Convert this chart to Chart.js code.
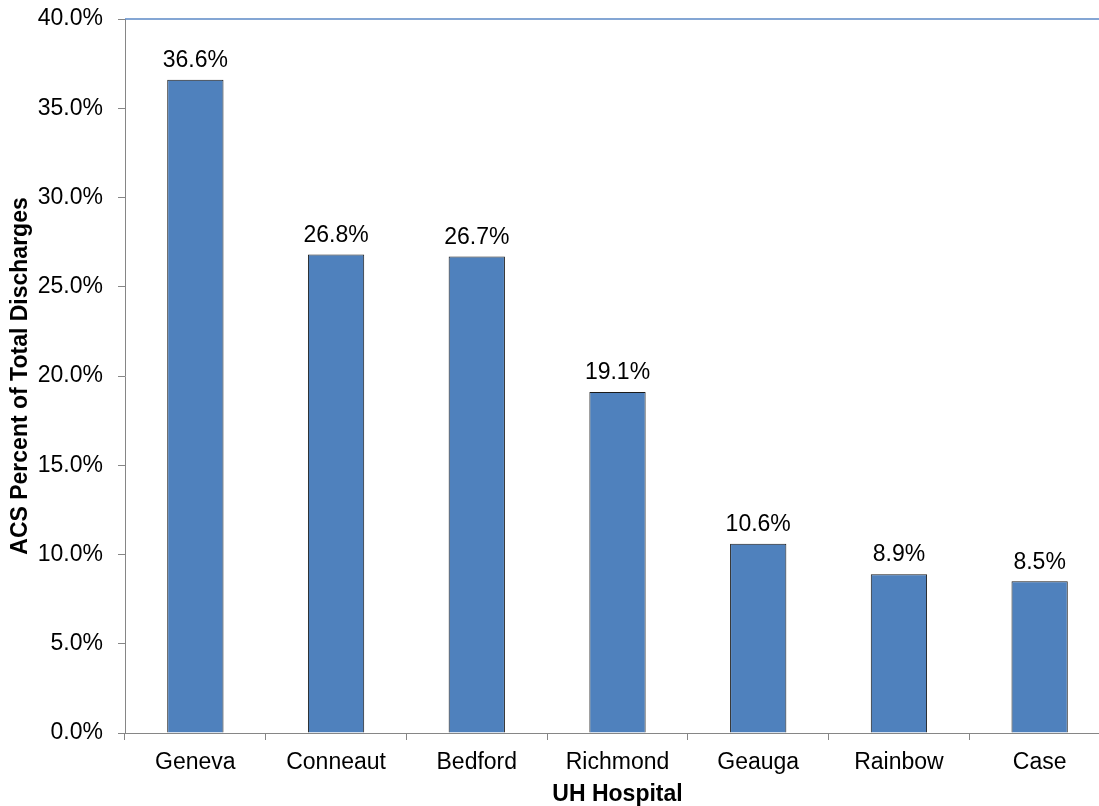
<!DOCTYPE html>
<html>
<head>
<meta charset="utf-8">
<script src="https://cdn.jsdelivr.net/npm/chart.js@4/dist/chart.umd.min.js"></script>
<style>
  html, body { margin: 0; padding: 0; background: #fff; overflow: hidden; }
  #wrap { position: absolute; left: 0; top: 0; width: 1110px; height: 806px; }
</style>
</head>
<body>
<div id="wrap"><canvas id="c"></canvas></div>
<script>
const categories = ['Geneva', 'Conneaut', 'Bedford', 'Richmond', 'Geauga', 'Rainbow', 'Case'];
const acsPercent = [36.6, 26.8, 26.7, 19.1, 10.6, 8.9, 8.5];
const yTickMin = 0;
const yTickMax = 40;
const yTickStep = 5;
const yTitle = 'ACS Percent of Total Discharges';
const xTitle = 'UH Hospital';

const FONT = "'Liberation Sans', Arial, sans-serif";
const FS = 23;
const AXIS_GRAY = '#868686';

const valueLabels = {
  id: 'valueLabels',
  afterDatasetsDraw(chart) {
    const ctx = chart.ctx;
    const meta = chart.getDatasetMeta(0);
    ctx.save();
    ctx.font = FS + 'px ' + FONT;
    ctx.fillStyle = '#000';
    ctx.textAlign = 'center';
    ctx.textBaseline = 'middle';
    meta.data.forEach((bar, i) => {
      ctx.fillText(acsPercent[i].toFixed(1) + '%', bar.x, bar.y - 19);
    });
    ctx.restore();
  }
};

const topBorder = {
  id: 'topBorder',
  afterDraw(chart) {
    const {ctx, chartArea} = chart;
    ctx.save();
    ctx.strokeStyle = '#5b89c6';
    ctx.lineWidth = 1.5;
    ctx.beginPath();
    ctx.moveTo(chartArea.left, chartArea.top);
    ctx.lineTo(chartArea.right, chartArea.top);
    ctx.stroke();
    ctx.restore();
  }
};

new Chart(document.getElementById('c'), {
  type: 'bar',
  data: {
    labels: categories,
    datasets: [{
      data: acsPercent,
      backgroundColor: '#4f81bd',
      borderColor: '#1a1a1a',
      borderWidth: 1,
      categoryPercentage: 1.0,
      barPercentage: 0.4
    }]
  },
  options: {
    responsive: true,
    maintainAspectRatio: false,
    animation: false,
    layout: { padding: { top: 19, left: 0, right: 0, bottom: 0 } },
    plugins: { legend: { display: false }, tooltip: { enabled: false } },
    scales: {
      x: {
        grid: { display: true, drawOnChartArea: false, drawTicks: true, tickLength: 7, color: AXIS_GRAY, offset: true },
        border: { display: true, color: AXIS_GRAY, width: 1 },
        ticks: { color: '#000', font: { family: FONT, size: FS }, padding: 9, maxRotation: 0 },
        title: { display: true, text: xTitle, color: '#000', font: { family: FONT, size: FS, weight: 'bold' }, padding: { top: 0, bottom: -2 } },
        afterFit(scale) { scale.height = 73; scale.paddingLeft = 0; scale.paddingRight = 0; }
      },
      y: {
        min: yTickMin,
        max: yTickMax,
        ticks: { stepSize: yTickStep, color: '#000', font: { family: FONT, size: FS }, padding: 15,
          callback: v => Number(v).toFixed(1) + '%' },
        grid: { display: true, drawOnChartArea: false, drawTicks: true, tickLength: 7, color: AXIS_GRAY },
        border: { display: true, color: AXIS_GRAY, width: 1 },
        title: { display: true, text: yTitle, color: '#000', font: { family: FONT, size: FS, weight: 'bold' }, padding: { top: 7, bottom: 0 } },
        afterFit(scale) { scale.width = 125; scale.paddingTop = 0; scale.paddingBottom = 0; }
      }
    }
  },
  plugins: [valueLabels, topBorder]
});
</script>
</body>
</html>
